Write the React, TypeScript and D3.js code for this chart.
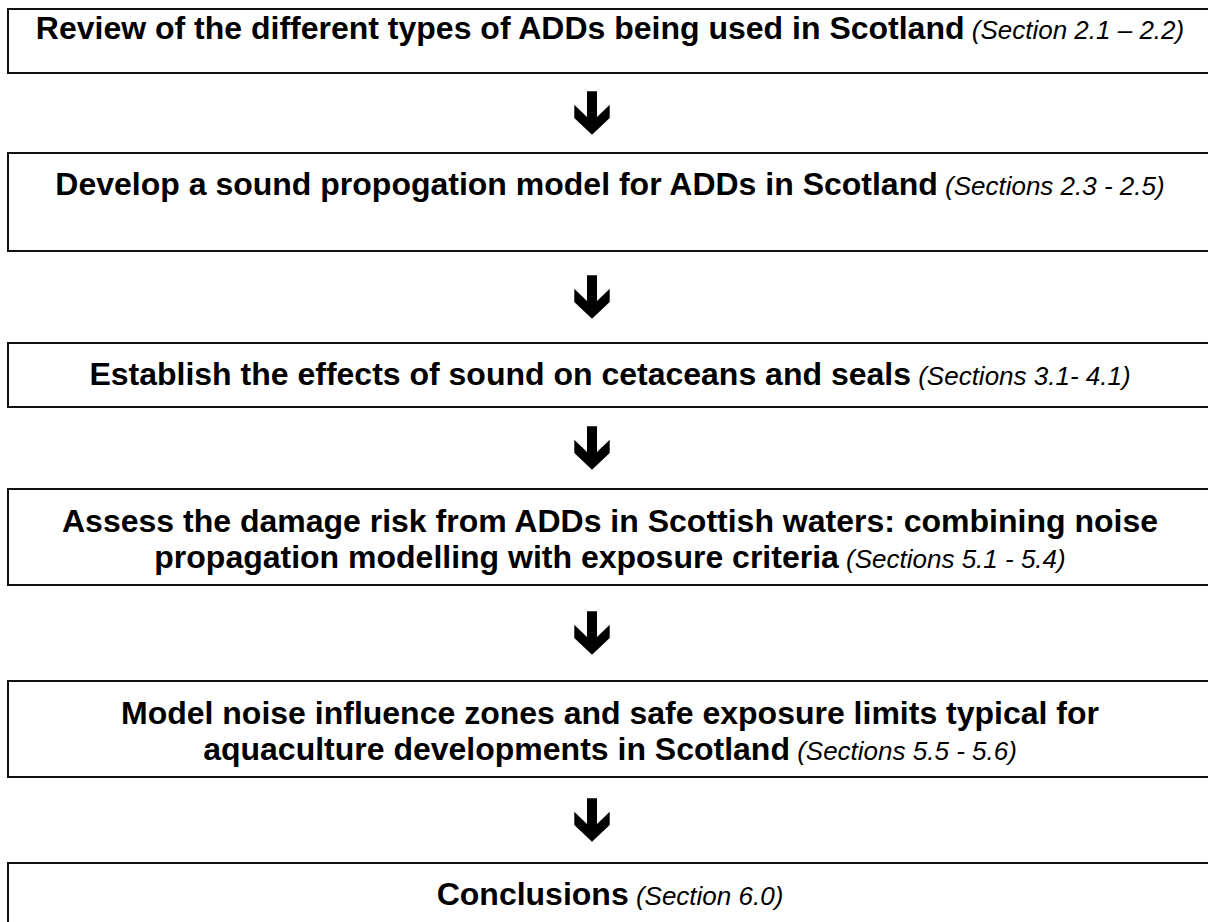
import React from "react";
import * as d3 from "d3";

// ---- data ----
const boldLines: string[][] = [
  ["Review of the different types of ADDs being used in Scotland"],
  ["Develop a sound propogation model for ADDs in Scotland"],
  ["Establish the effects of sound on cetaceans and seals"],
  [
    "Assess the damage risk from ADDs in Scottish waters: combining noise",
    "propagation modelling with exposure criteria",
  ],
  [
    "Model noise influence zones and safe exposure limits typical for",
    "aquaculture developments in Scotland",
  ],
  ["Conclusions"],
];
const sectionRefs: string[] = [
  "(Section 2.1 \u2013 2.2)",
  "(Sections 2.3 - 2.5)",
  "(Sections 3.1- 4.1)",
  "(Sections 5.1 - 5.4)",
  "(Sections 5.5 - 5.6)",
  "(Section 6.0)",
];

// ---- layout ----
const W = 1208;
const H = 922;
const boxTops = [9, 153, 343, 489, 681, 863];
const boxBottoms = [73, 251, 407, 585, 777, 935];
const firstBaselines = [39, 195, 385, 532, 724, 905];
const lineGap = 36;
const boldSize = 32;
const italSize = 26;
const FONT = "'Liberation Sans', Arial, Helvetica, sans-serif";

const x = d3.scaleLinear().domain([0, 1]).range([8, 1212]);
const y = d3.scaleLinear().domain([0, H]).range([0, H]);

function arrowPath(cx: number, top: number): string {
  const p = d3.path();
  const pts: [number, number][] = [
    [-5, 0],
    [5, 0],
    [5, 25.7],
    [17.7, 13.3],
    [17.7, 26.7],
    [0, 43.3],
    [-17.7, 26.7],
    [-17.7, 13.3],
    [-5, 25.7],
  ];
  pts.forEach(([dx, dy], i) => {
    if (i === 0) p.moveTo(cx + dx, top + dy);
    else p.lineTo(cx + dx, top + dy);
  });
  p.closePath();
  return p.toString();
}

export default function App() {
  const cx = (x(0) + x(1)) / 2;
  const arrowX = 592;
  return (
    <div style={{ position: "absolute", left: 0, top: 0, width: W, height: H, background: "#fff" }}>
      <svg width={W} height={H} style={{ display: "block" }}>
        <rect x={0} y={0} width={W} height={H} fill="#fff" />
        {boldLines.map((lines, i) => (
          <g key={i}>
            <rect
              x={x(0)}
              y={y(boxTops[i])}
              width={x(1) - x(0)}
              height={y(boxBottoms[i]) - y(boxTops[i])}
              fill="#fff"
              stroke="#111"
              strokeWidth={2}
            />
            {lines.map((ln, j) => (
              <text
                key={j}
                x={cx}
                y={y(firstBaselines[i] + j * lineGap)}
                textAnchor="middle"
                fontFamily={FONT}
                fill="#000"
              >
                <tspan fontWeight="bold" fontSize={boldSize}>
                  {ln}
                </tspan>
                {j === lines.length - 1 ? (
                  <tspan fontStyle="italic" fontSize={italSize}>
                    {" " + sectionRefs[i]}
                  </tspan>
                ) : null}
              </text>
            ))}
          </g>
        ))}
        {boxTops.slice(1).map((t, i) => {
          const gapTop = boxBottoms[i];
          const top = gapTop + (t - gapTop - 43.3) / 2;
          return <path key={i} d={arrowPath(arrowX, y(top))} fill="#000" />;
        })}
      </svg>
    </div>
  );
}
